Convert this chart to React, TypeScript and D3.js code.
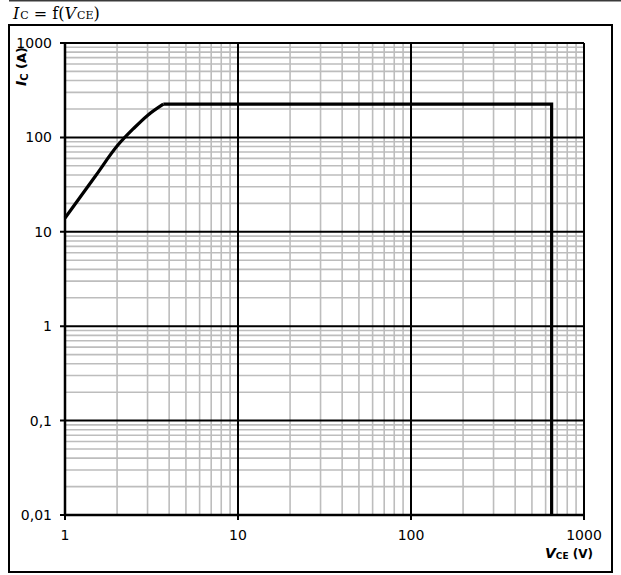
import React from "react";
import * as d3 from "d3";

const xDomain: [number, number] = [1, 1000];
const yDomain: [number, number] = [0.01, 1000];
const xTickValues = [1, 10, 100, 1000];
const xTickLabels = ["1", "10", "100", "1000"];
const yTickValues = [0.01, 0.1, 1, 10, 100, 1000];
const yTickLabels = ["0,01", "0,1", "1", "10", "100", "1000"];
const riseVce = [1, 1.5, 2, 2.5, 3, 3.7];
const riseIc = [14, 39, 81, 125, 171, 225];
const limitVce = [3.7, 650, 650];
const limitIc = [225, 225, 0.01];

const W = 621;
const H = 575;
const left = 65, right = 584, top = 43, bottom = 515;

export default function App() {
  const x = d3.scaleLog().domain(xDomain).range([left, right]);
  const y = d3.scaleLog().domain(yDomain).range([bottom, top]);

  const minorX: number[] = [];
  for (let d = 1; d < 1000; d *= 10) for (let k = 2; k <= 9; k++) minorX.push(d * k);
  const minorY: number[] = [];
  for (let d = 0.01; d < 999; d *= 10) for (let k = 2; k <= 9; k++) minorY.push(d * k);

  const rise: [number, number][] = riseVce.map((v, i) => [v, riseIc[i]]);
  const limit: [number, number][] = limitVce.map((v, i) => [v, limitIc[i]]);
  const smooth = d3.line<[number, number]>().x((d) => x(d[0])).y((d) => y(d[1])).curve(d3.curveMonotoneX);
  const straight = d3.line<[number, number]>().x((d) => x(d[0])).y((d) => y(d[1]));

  const sans = "'DejaVu Sans', Verdana, sans-serif";
  return (
    <svg width={W} height={H} style={{ position: "absolute", left: 0, top: 0 }}>
      <rect x={0} y={0} width={W} height={H} fill="#fff" />
      <line x1={9} x2={621} y1={0.5} y2={0.5} stroke="#3a3a3a" strokeWidth={2} />
      <text x={13} y={19} fontFamily="'DejaVu Serif', serif" fontSize={16} fill="#000">
        <tspan fontStyle="italic">I</tspan>
        <tspan fontSize={11} dx={1}>C</tspan>
        <tspan> = f(</tspan>
        <tspan fontStyle="italic">V</tspan>
        <tspan fontSize={11} dx={1}>CE</tspan>
        <tspan>)</tspan>
      </text>
      <rect x={9} y={25} width={603} height={547} fill="none" stroke="#000" strokeWidth={2} />

      {minorX.map((v) => (
        <line key={"mx" + v} x1={x(v)} x2={x(v)} y1={top} y2={bottom} stroke="#bdbdbd" strokeWidth={1.6} />
      ))}
      {minorY.map((v) => (
        <line key={"my" + v} x1={left} x2={right} y1={y(v)} y2={y(v)} stroke="#bdbdbd" strokeWidth={1.6} />
      ))}
      {xTickValues.map((v) => (
        <line key={"Mx" + v} x1={x(v)} x2={x(v)} y1={top} y2={bottom + 5} stroke="#000" strokeWidth={2} />
      ))}
      {yTickValues.map((v) => (
        <line key={"My" + v} x1={left - 5} x2={right} y1={y(v)} y2={y(v)} stroke="#000" strokeWidth={2} />
      ))}
      <line x1={left} x2={left} y1={top - 1} y2={bottom + 1} stroke="#000" strokeWidth={2.5} />
      <line x1={left - 1} x2={right + 1} y1={bottom} y2={bottom} stroke="#000" strokeWidth={2.5} />

      <path d={smooth(rise) || ""} fill="none" stroke="#000" strokeWidth={3.2} />
      <path d={straight(limit) || ""} fill="none" stroke="#000" strokeWidth={3.2} strokeLinejoin="miter" />

      {yTickValues.map((v, i) => (
        <text key={"yl" + v} x={52} y={y(v)} dy="0.36em" textAnchor="end" fontFamily={sans} fontSize={14} fill="#000">
          {yTickLabels[i]}
        </text>
      ))}
      {xTickValues.map((v, i) => (
        <text key={"xl" + v} x={x(v)} y={540} textAnchor="middle" fontFamily={sans} fontSize={14} fill="#000">
          {xTickLabels[i]}
        </text>
      ))}

      <text transform="translate(26,86) rotate(-90)" fontFamily={sans} fontSize={13} fontWeight="bold" fill="#000">
        <tspan fontStyle="italic" fontSize={14}>I</tspan>
        <tspan fontSize={10} dy={2}>C</tspan>
        <tspan dy={-2}> (A)</tspan>
      </text>
      <text x={593} y={558} textAnchor="end" fontFamily={sans} fontSize={12} fontWeight="bold" fill="#000">
        <tspan fontStyle="italic" fontSize={14}>V</tspan>
        <tspan fontSize={9} dy={1}>CE</tspan>
        <tspan dy={-1}> (V)</tspan>
      </text>
    </svg>
  );
}
